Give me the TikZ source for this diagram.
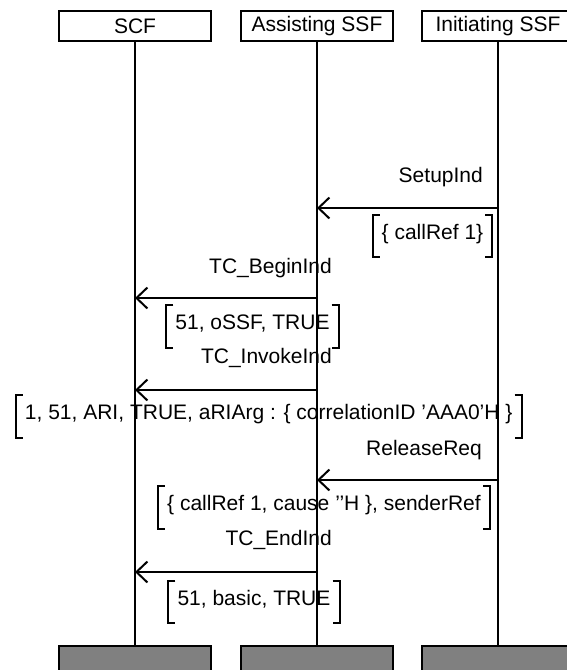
\documentclass[tikz,border=0pt]{standalone}
\usepackage{fontspec}
\setmainfont{Liberation Sans}
\usetikzlibrary{arrows.meta}

\newcommand\parambrackets[1]{%
  \draw[brk] ([xshift=7pt]#1.north west) -| (#1.south west) -- ++(7,0);
  \draw[brk] ([xshift=-7pt]#1.north east) -| (#1.south east) -- ++(-7,0);}

\begin{document}
\begin{tikzpicture}[x=1pt,y=-1pt,
  every node/.style={font=\fontsize{21}{25}\selectfont},
  entity/.style={draw,line width=2pt,minimum width=152pt,minimum height=30pt,inner sep=0pt},
  endbox/.style={entity,fill=black!50},
  life/.style={line width=2pt},
  msg/.style={line width=2pt,-{Straight Barb[length=11pt,width=21pt]}},
  label/.style={anchor=base east,inner sep=0pt},
  param/.style={minimum height=42pt,inner xsep=9pt,inner ysep=0pt,text height=13pt,text depth=7pt},
  brk/.style={line width=2pt}]

\useasboundingbox (0,0) rectangle (567,670);
\clip (0,0) rectangle (567,670);

% entities
\node[entity] (scf) at (135,26) {SCF};
\node[entity] (ass) at (317,26) {Assisting SSF};
\node[entity] (ini) at (498,26) {Initiating SSF};

\node[endbox] (scfend) at (135,661) {};
\node[endbox] (assend) at (317,661) {};
\node[endbox] (iniend) at (498,661) {};

\draw[life] (scf) -- (scfend);
\draw[life] (ass) -- (assend);
\draw[life] (ini) -- (iniend);

% messages
\coordinate (m1) at (0,208);
\coordinate (m2) at (0,298);
\coordinate (m3) at (0,390);
\coordinate (m4) at (0,480);
\coordinate (m5) at (0,572);

\node[label] (l1) at (483,182) {SetupInd};
\draw[msg] (ini |- m1) -- (ass |- m1);
\node[param] (p1) at (432.5,236) {\{ callRef 1\}};
\parambrackets{p1}

\node[label] (l2) at (332,273) {TC\_BeginInd};
\draw[msg] (ass |- m2) -- (scf |- m2);
\node[param] (p2) at (252.5,326.5) {51, oSSF, TRUE};
\parambrackets{p2}

\node[label] (l3) at (332,363) {TC\_InvokeInd};
\draw[msg] (ass |- m3) -- (scf |- m3);
\node[param] (p3) at (268.7,416.5) {1, 51, ARI, TRUE, aRIArg : \{ correlationID ’AAA0’H \}};
\parambrackets{p3}

\node[label] (l4) at (482,455) {ReleaseReq};
\draw[msg] (ini |- m4) -- (ass |- m4);
\node[param] (p4) at (324,507.5) {\{ callRef 1, cause ’’H \}, senderRef};
\parambrackets{p4}

\node[label] (l5) at (332,545) {TC\_EndInd};
\draw[msg] (ass |- m5) -- (scf |- m5);
\node[param] (p5) at (254,602) {51, basic, TRUE};
\parambrackets{p5}

\end{tikzpicture}
\end{document}
